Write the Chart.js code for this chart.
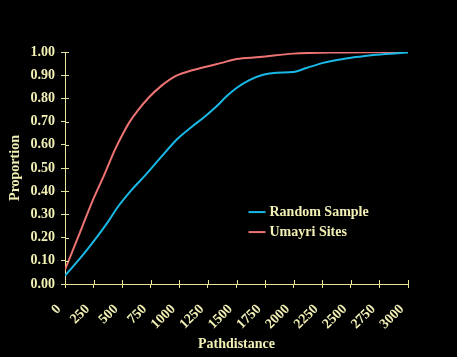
<!DOCTYPE html>
<html><head><meta charset="utf-8">
<script src="https://cdn.jsdelivr.net/npm/chart.js@4/dist/chart.umd.min.js"></script>
<style>html,body{margin:0;padding:0;background:#000;}#wrap{width:457px;height:357px;}</style>
</head><body><div id="wrap"><canvas id="c" width="457" height="357"></canvas></div>
<script>
const seriesNames = ["Random Sample", "Umayri Sites"];
const randomX = [0, 146, 262, 379, 466, 583, 699, 845, 991, 1107, 1224, 1326, 1413, 1500, 1617, 1733, 1850, 1996, 2112, 2258, 2433, 2580, 2724, 3000];
const randomY = [0.036, 0.119, 0.191, 0.27, 0.335, 0.406, 0.467, 0.55, 0.629, 0.677, 0.722, 0.766, 0.809, 0.845, 0.88, 0.902, 0.911, 0.914, 0.931, 0.953, 0.97, 0.98, 0.988, 0.998];
const umayriX = [0, 117, 233, 350, 437, 510, 568, 641, 729, 845, 962, 1078, 1224, 1360, 1500, 1705, 1996, 2433, 3000];
const umayriY = [0.062, 0.205, 0.349, 0.478, 0.579, 0.651, 0.701, 0.751, 0.802, 0.855, 0.895, 0.916, 0.935, 0.952, 0.97, 0.978, 0.993, 0.998, 1.0];
const xTicks = [0, 250, 500, 750, 1000, 1250, 1500, 1750, 2000, 2250, 2500, 2750, 3000];
const yTicks = [0, 0.1, 0.2, 0.3, 0.4, 0.5, 0.6, 0.7, 0.8, 0.9, 1.0];
const colors = ["#1ab8e6", "#ee7474"];
const txt = "#f2f0b4";
const axisCol = "#e8e49c";
const fnt = {family: "'Liberation Serif', 'DejaVu Serif', serif", weight: "bold", size: 14};

const toPts = (xs, ys) => xs.map((x, i) => ({x: x, y: ys[i]}));

const legendPlugin = {
  id: 'inLegend',
  afterDatasetsDraw(chart) {
    const ctx = chart.ctx, a = chart.chartArea;
    const x0 = a.left + (a.right - a.left) * 0.535;
    const y0 = a.top + (a.bottom - a.top) * 0.69;
    ctx.save();
    ctx.font = "bold 14px 'Liberation Serif', serif";
    ctx.textBaseline = 'middle';
    seriesNames.forEach((n, i) => {
      const y = y0 + i * 20;
      ctx.strokeStyle = colors[i]; ctx.lineWidth = 2;
      ctx.beginPath(); ctx.moveTo(x0, y); ctx.lineTo(x0 + 17, y); ctx.stroke();
      ctx.fillStyle = txt; ctx.fillText(n, x0 + 21, y);
    });
    ctx.restore();
  }
};

const tickPlugin = {
  id: 'innerTicks',
  afterDraw(chart) {
    const ctx = chart.ctx, a = chart.chartArea;
    const xs = chart.scales.x, ys = chart.scales.y;
    ctx.save();
    ctx.strokeStyle = axisCol; ctx.lineWidth = 1;
    ctx.beginPath();
    xTicks.forEach(v => { const p = Math.round(xs.getPixelForValue(v)) + 0.5; ctx.moveTo(p, a.bottom); ctx.lineTo(p, a.bottom - 4); });
    yTicks.forEach(v => { const p = Math.round(ys.getPixelForValue(v)) + 0.5; ctx.moveTo(a.left, p); ctx.lineTo(a.left + 4, p); });
    ctx.stroke();
    ctx.restore();
  }
};

new Chart(document.getElementById('c'), {
  type: 'line',
  data: {
    datasets: [
      {label: seriesNames[0], data: toPts(randomX, randomY), borderColor: colors[0], borderWidth: 2, pointRadius: 0, cubicInterpolationMode: 'monotone', fill: false},
      {label: seriesNames[1], data: toPts(umayriX, umayriY), borderColor: colors[1], borderWidth: 2, pointRadius: 0, cubicInterpolationMode: 'monotone', fill: false}
    ]
  },
  options: {
    responsive: false, animation: false, devicePixelRatio: 1,
    layout: {padding: {top: 52, right: 49, left: 0, bottom: 0}},
    plugins: {legend: {display: false}, tooltip: {enabled: false}},
    scales: {
      x: {
        type: 'linear', min: 0, max: 3000,
        afterBuildTicks: s => { s.ticks = xTicks.map(v => ({value: v})); },
        afterFit: s => { s.height = 73; },
        ticks: {color: txt, font: fnt, minRotation: 45, maxRotation: 45, padding: 13, labelOffset: -6, callback: v => String(v)},
        grid: {drawOnChartArea: false, color: axisCol, tickLength: 4, tickColor: axisCol},
        border: {color: axisCol, width: 1},
        title: {display: true, text: 'Pathdistance', color: txt, font: fnt, padding: {top: 0, bottom: 4}}
      },
      y: {
        type: 'linear', min: 0, max: 1,
        afterBuildTicks: s => { s.ticks = yTicks.map(v => ({value: v})); },
        afterFit: s => { s.width = 65; },
        ticks: {color: txt, font: fnt, padding: 6, callback: v => Number(v).toFixed(2)},
        grid: {drawOnChartArea: false, color: axisCol, tickLength: 4, tickColor: axisCol},
        border: {color: axisCol, width: 1},
        title: {display: true, text: 'Proportion', color: txt, font: fnt, padding: {top: 7, bottom: 0}}
      }
    }
  },
  plugins: [legendPlugin, tickPlugin]
});
</script></body></html>
